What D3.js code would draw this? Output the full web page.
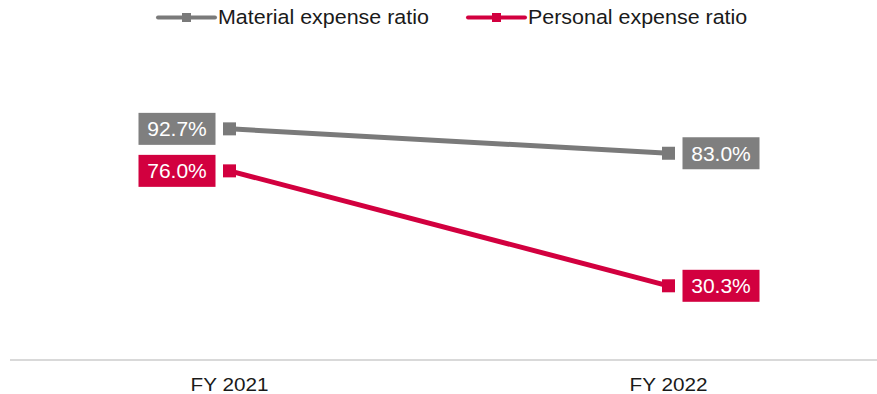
<!DOCTYPE html>
<html>
<head>
<meta charset="utf-8">
<script src="https://cdn.jsdelivr.net/npm/d3@7/dist/d3.min.js"></script>
<style>
  html, body { margin: 0; padding: 0; background: #fff; }
  svg { display: block; font-family: "Liberation Sans", Arial, sans-serif; }
</style>
</head>
<body>
<svg id="chart" width="877" height="394"></svg>
<script>
// Cost ratio data, FY 2021 vs FY 2022
const categories = ["FY 2021", "FY 2022"];
const seriesNames = ["Material expense ratio", "Personal expense ratio"];
const materialRatio = [92.7, 83.0];
const personalRatio = [76.0, 30.3];
const seriesColors = ["#7a7a7a", "#d2003f"];
const labelColors = ["#7f7f7f", "#d2003f"];

const series = [
  { name: seriesNames[0], values: materialRatio, color: seriesColors[0], box: labelColors[0] },
  { name: seriesNames[1], values: personalRatio, color: seriesColors[1], box: labelColors[1] }
];

const W = 877, H = 394;
const svg = d3.select("#chart");

const x = d3.scaleBand().domain(categories).range([10, 888]);
const y = d3.scaleLinear().domain([0, 100]).range([362, 110.5]);
const cx = c => x(c) + x.bandwidth() / 2;

// category axis (baseline only, no ticks)
const axis = svg.append("g").attr("transform", "translate(0,360)")
  .call(d3.axisBottom(x).tickSize(0).tickPadding(0));
axis.select(".domain").remove();
axis.selectAll("text").remove();
svg.append("line")
  .attr("x1", 10).attr("x2", W).attr("y1", 360).attr("y2", 360)
  .attr("stroke", "#d9d9d9").attr("stroke-width", 2);

svg.append("g").selectAll("text").data(categories).join("text")
  .attr("transform", d => `translate(${cx(d)},391) scale(1.12,1)`)
  .attr("text-anchor", "middle")
  .attr("font-size", 18.5)
  .attr("fill", "#1a1a1a")
  .text(d => d);

// lines
const line = d3.line().x((d, i) => cx(categories[i])).y(d => y(d));
svg.append("g").selectAll("path").data(series).join("path")
  .attr("d", s => line(s.values))
  .attr("fill", "none")
  .attr("stroke", s => s.color)
  .attr("stroke-width", 5);

// markers
const mk = 13;
series.forEach(s => {
  svg.append("g").selectAll("rect").data(s.values).join("rect")
    .attr("x", (d, i) => cx(categories[i]) - mk / 2)
    .attr("y", d => y(d) - mk / 2)
    .attr("width", mk).attr("height", mk)
    .attr("fill", s.color);
});

// value labels: boxes to the left of the first point, right of the last
const bw = 77, bh = 32, gap = 14;
series.forEach(s => {
  const g = svg.append("g").selectAll("g").data(s.values).join("g")
    .attr("transform", (d, i) => {
      const px = cx(categories[i]);
      const bx = i === 0 ? px - gap - bw : px + gap;
      return `translate(${bx},${y(d) - bh / 2})`;
    });
  g.append("rect").attr("width", bw).attr("height", bh).attr("fill", s.box);
  g.append("text")
    .attr("x", bw / 2).attr("y", bh / 2 + 7.5)
    .attr("text-anchor", "middle")
    .attr("font-size", 21)
    .attr("fill", "#fff")
    .text(d => d.toFixed(1) + "%");
});

// legend
const legendX = [158, 468];
const lg = svg.append("g").selectAll("g").data(series).join("g")
  .attr("transform", (s, i) => `translate(${legendX[i]},17.5)`);
lg.append("line").attr("x1", 0).attr("x2", 57).attr("y1", 0).attr("y2", 0)
  .attr("stroke", s => s.color).attr("stroke-width", 4).attr("stroke-linecap", "round");
lg.append("rect").attr("x", 24).attr("y", -4.5).attr("width", 9).attr("height", 9)
  .attr("fill", s => s.color);
lg.append("text")
  .attr("transform", "translate(60,6.5) scale(1.1,1)")
  .attr("font-size", 19.5)
  .attr("fill", "#1a1a1a")
  .text(s => s.name);
</script>
</body>
</html>
